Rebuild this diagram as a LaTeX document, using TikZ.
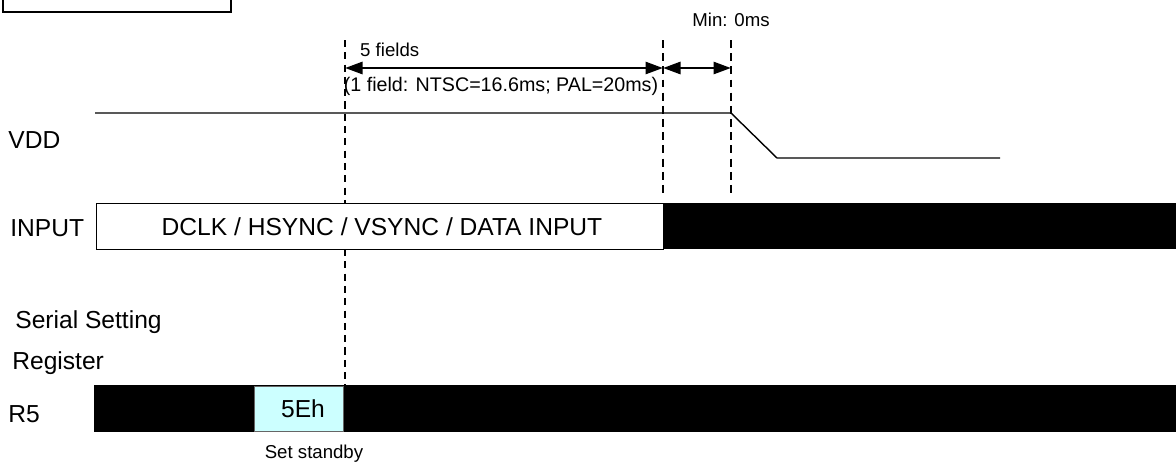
\documentclass[tikz,border=0pt]{standalone}
\usepackage{fontspec}
\setmainfont{Liberation Sans}
\usetikzlibrary{arrows.meta,positioning}
\definecolor{regcyan}{RGB}{204,255,255}

\begin{document}
\begin{tikzpicture}[
  x=0.02cm, y=-0.02cm,
  font=\fontsize{14}{16}\selectfont,
  >={Triangle[length=3.5mm,width=2.4mm]},
  small/.style={font=\fontsize{10.6}{12}\selectfont},
  siglabel/.style={anchor=west, inner sep=0pt},
  marker/.style={line width=1.5pt, dash pattern=on 4.5pt off 3pt},
  thinmarker/.style={line width=0.8pt, dash pattern=on 4pt off 3pt},
  span/.style={<->, line width=1.6pt},
  level/.style={line width=0.8pt},
  bus/.style={draw, line width=0.6pt, fill=white, inner sep=0pt, anchor=north west},
  busy/.style={fill=black, inner sep=0pt, anchor=north west},
  regval/.style={draw=black!60, line width=0.5pt, fill=regcyan, inner sep=0pt, anchor=north west}
]
\useasboundingbox (0,0) rectangle (1176,467);

% Title box, cut at the top edge.
\draw[line width=0.8pt] (3,-20) -- (3,12) -- (231,12) -- (231,-20);

% Time markers.
\coordinate (t0) at (345,40);
\coordinate (t1) at (663,40);
\coordinate (t2) at (731,40);
\coordinate (t0end) at (345,385);
\coordinate (t1end) at (663,197);
\coordinate (t2end) at (731,197);
\draw[thinmarker] (t0) -- (t0end);
\draw[marker] (t1) -- (t1end);
\draw[marker] (t2) -- (t2end);

% Timing intervals.
\coordinate (a0) at (345,68);
\coordinate (a1) at (663,68);
\coordinate (a2) at (731,68);
\draw[span] (a0) -- (a1);
\draw[span] (a1) -- (a2);
\node[small, anchor=west] (fields) at (354,50) {5 fields};
\node[small, font=\fontsize{11.2}{13}\selectfont, inner sep=0pt] (fieldnote) at (501,86) {(1 field: NTSC=16.6ms; PAL=20ms)};
\node[small] (minwait) at (731,20) {Min: 0ms};

% VDD.
\node[siglabel] (vdd) at (8,140) {VDD};
\coordinate (vddhi) at (95,113);
\coordinate (vddoff) at (731,113);
\coordinate (vddlo) at (777,158);
\coordinate (vddend) at (1000,158);
\draw[level] (vddhi) -- (vddoff) -- (vddlo) -- (vddend);

% INPUT.
\node[siglabel] (input) at (10,228) {INPUT};
\node[busy, minimum width=513*0.02cm, minimum height=46*0.02cm] (inputoff) at (663,203) {};
\node[bus, minimum width=567*0.02cm, minimum height=46*0.02cm] (inputon) at (96,203) {};
\node (inputtext) at (382,227) {DCLK / HSYNC / VSYNC / DATA INPUT};

% Serial setting register R5.
\node[siglabel] (serial) at (15,322) {Serial Setting};
\node[siglabel] (register) at (12,363) {Register};
\node[siglabel] (rfive) at (8,414) {R5};
\node[busy, minimum width=1082*0.02cm, minimum height=47*0.02cm] (rfivebus) at (94,385) {};
\node[regval, minimum width=89*0.02cm, minimum height=45*0.02cm] (standby) at (254,386) {};
\node (standbytext) at (303,409) {5Eh};
\node[small] (standbynote) at (314,454) {Set standby};

\end{tikzpicture}
\end{document}
